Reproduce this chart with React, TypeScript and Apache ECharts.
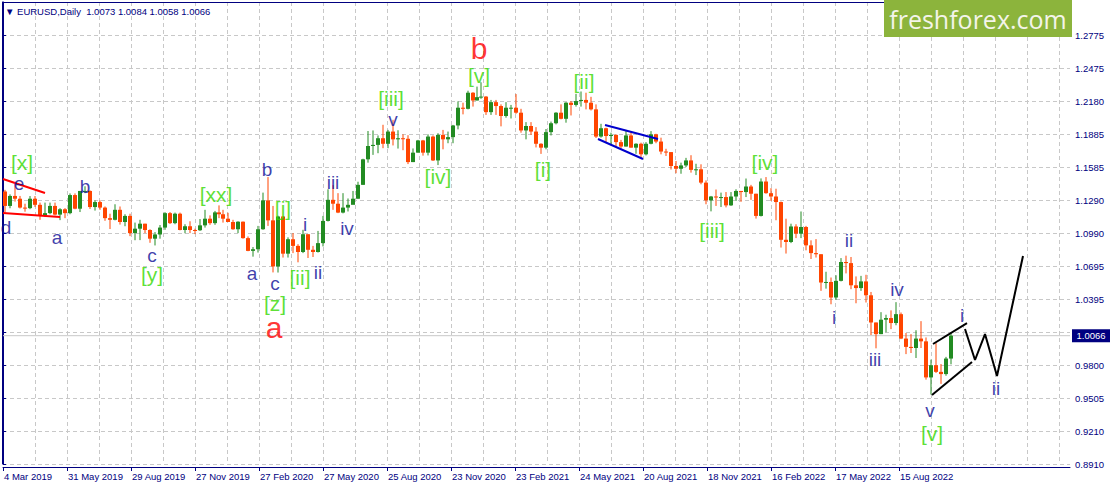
import React, { useEffect, useRef } from 'react';
import * as echarts from 'echarts';

// ---------------- data ----------------
const chartTitle = '\u25BC EURUSD,Daily  1.0073 1.0084 1.0058 1.0066';
const watermark = 'freshforex.com';
const lastPrice = 1.0066;
const lastPriceText = '1.0066';
const firstDay = '2019-03-04';
const lastBarDay = '2022-10-27';
const totalSlots = 1068; // trading-day slots shown on the x axis (incl. empty future)

const priceTicks = ['0.8910', '0.9210', '0.9505', '0.9800', '1.0100', '1.0395', '1.0695', '1.0990', '1.1290', '1.1585', '1.1885', '1.2180', '1.2475', '1.2775'];
const priceMin = 0.891;
const priceStep = 0.3865 / 13;

// weekly candles [open, high, low, close], weeks starting Mondays from 4 Mar 2019
const weeks2019 = [
  [1.1365, 1.1380, 1.1176, 1.1235], [1.1235, 1.1339, 1.1214, 1.1325], [1.1325, 1.1448, 1.1274, 1.1300], [1.1300, 1.1325, 1.1212, 1.1220],
  [1.1220, 1.1255, 1.1183, 1.1215], [1.1215, 1.1324, 1.1206, 1.1300], [1.1300, 1.1324, 1.1226, 1.1245], [1.1245, 1.1265, 1.1110, 1.1150],
  [1.1150, 1.1265, 1.1135, 1.1170], [1.1170, 1.1265, 1.1160, 1.1235], [1.1235, 1.1265, 1.1150, 1.1157], [1.1157, 1.1215, 1.1107, 1.1205],
  [1.1205, 1.1215, 1.1125, 1.1170], [1.1170, 1.1348, 1.1160, 1.1333], [1.1333, 1.1348, 1.1205, 1.1210], [1.1210, 1.1370, 1.1180, 1.1370],
  [1.1370, 1.1412, 1.1350, 1.1370], [1.1370, 1.1375, 1.1208, 1.1225], [1.1225, 1.1285, 1.1193, 1.1270], [1.1270, 1.1285, 1.1200, 1.1220],
  [1.1220, 1.1230, 1.1101, 1.1125], [1.1125, 1.1165, 1.1027, 1.1110], [1.1110, 1.1250, 1.1105, 1.1200], [1.1200, 1.1230, 1.1067, 1.1090],
  [1.1090, 1.1160, 1.1052, 1.1145], [1.1145, 1.1165, 1.0963, 1.0990], [1.0990, 1.1085, 1.0926, 1.1030], [1.1030, 1.1110, 1.0927, 1.1075],
  [1.1075, 1.1075, 1.0990, 1.1018], [1.1018, 1.1025, 1.0903, 1.0940], [1.0940, 1.0999, 1.0879, 1.0978], [1.0978, 1.1063, 1.0940, 1.1040],
  [1.1040, 1.1179, 1.1020, 1.1170], [1.1170, 1.1180, 1.1072, 1.1080], [1.1080, 1.1175, 1.1070, 1.1165], [1.1165, 1.1175, 1.1015, 1.1018],
  [1.1018, 1.1070, 1.0989, 1.1052], [1.1052, 1.1097, 1.0990, 1.1018], [1.1018, 1.1030, 1.0981, 1.1016], [1.1016, 1.1117, 1.1010, 1.1060],
  [1.1060, 1.1200, 1.1040, 1.1120], [1.1120, 1.1150, 1.1065, 1.1080], [1.1080, 1.1190, 1.1065, 1.1177], [1.1177, 1.1240, 1.1125, 1.1160],
];
const weeks2020 = [
  [1.1160, 1.1200, 1.1085, 1.1120], [1.1120, 1.1173, 1.1090, 1.1090], [1.1090, 1.1110, 1.1020, 1.1025], [1.1025, 1.1097, 1.0990, 1.1093],
  [1.1093, 1.1095, 1.0940, 1.0945], [1.0945, 1.0960, 1.0827, 1.0830], [1.0830, 1.0865, 1.0778, 1.0845], [1.0845, 1.1055, 1.0815, 1.1025],
  [1.1025, 1.1355, 1.1020, 1.1285], [1.1285, 1.1495, 1.1055, 1.1105], [1.1105, 1.1235, 1.0636, 1.0690], [1.0690, 1.1147, 1.0635, 1.1140],
  [1.1140, 1.1145, 1.0770, 1.0805], [1.0805, 1.0952, 1.0770, 1.0935], [1.0935, 1.0990, 1.0810, 1.0875], [1.0875, 1.0890, 1.0727, 1.0820],
  [1.0820, 1.1020, 1.0810, 1.0980], [1.0980, 1.0980, 1.0766, 1.0840], [1.0840, 1.0875, 1.0775, 1.0820], [1.0820, 1.1010, 1.0815, 1.0900],
  [1.0900, 1.1145, 1.0870, 1.1100], [1.1100, 1.1385, 1.1095, 1.1290], [1.1290, 1.1422, 1.1200, 1.1255], [1.1255, 1.1350, 1.1170, 1.1175],
  [1.1175, 1.1350, 1.1168, 1.1220], [1.1220, 1.1302, 1.1185, 1.1245], [1.1245, 1.1370, 1.1255, 1.1300], [1.1300, 1.1453, 1.1300, 1.1425],
  [1.1425, 1.1660, 1.1425, 1.1655], [1.1655, 1.1910, 1.1625, 1.1775], [1.1775, 1.1915, 1.1695, 1.1785], [1.1785, 1.1870, 1.1710, 1.1845],
  [1.1845, 1.1966, 1.1755, 1.1795], [1.1795, 1.1920, 1.1755, 1.1905], [1.1905, 1.2011, 1.1780, 1.1835], [1.1835, 1.1917, 1.1752, 1.1845],
  [1.1845, 1.1880, 1.1737, 1.1840], [1.1840, 1.1872, 1.1612, 1.1630], [1.1630, 1.1753, 1.1630, 1.1715], [1.1715, 1.1830, 1.1715, 1.1825],
  [1.1825, 1.1830, 1.1688, 1.1715], [1.1715, 1.1880, 1.1690, 1.1860], [1.1860, 1.1870, 1.1640, 1.1645], [1.1645, 1.1890, 1.1603, 1.1875],
  [1.1875, 1.1920, 1.1745, 1.1835], [1.1835, 1.1905, 1.1800, 1.1855], [1.1855, 1.1965, 1.1800, 1.1960], [1.1960, 1.2177, 1.1925, 1.2120],
  [1.2120, 1.2165, 1.2060, 1.2110], [1.2110, 1.2273, 1.2105, 1.2255], [1.2255, 1.2260, 1.2130, 1.2185], [1.2185, 1.2310, 1.2185, 1.2215],
];
const weeks2021 = [
  [1.2215, 1.2349, 1.2200, 1.2220], [1.2220, 1.2225, 1.2055, 1.2080], [1.2080, 1.2190, 1.2055, 1.2170], [1.2170, 1.2190, 1.2055, 1.2135],
  [1.2135, 1.2150, 1.1952, 1.2045], [1.2045, 1.2170, 1.2030, 1.2120], [1.2120, 1.2145, 1.2023, 1.2120], [1.2120, 1.2243, 1.2065, 1.2075],
  [1.2075, 1.2110, 1.1895, 1.1915], [1.1915, 1.1990, 1.1835, 1.1955], [1.1955, 1.1990, 1.1875, 1.1905], [1.1905, 1.1945, 1.1762, 1.1795],
  [1.1795, 1.1800, 1.1704, 1.1760], [1.1760, 1.1928, 1.1745, 1.1900], [1.1900, 1.1995, 1.1870, 1.1980], [1.1980, 1.2080, 1.1970, 1.2075],
  [1.2075, 1.2150, 1.2015, 1.2020], [1.2020, 1.2170, 1.1985, 1.2165], [1.2165, 1.2180, 1.2050, 1.2145], [1.2145, 1.2245, 1.2130, 1.2180],
  [1.2180, 1.2266, 1.2130, 1.2190], [1.2190, 1.2255, 1.2105, 1.2165], [1.2165, 1.2218, 1.2095, 1.2105], [1.2105, 1.2150, 1.1847, 1.1860],
  [1.1860, 1.1975, 1.1850, 1.1935], [1.1935, 1.1940, 1.1807, 1.1865], [1.1865, 1.1895, 1.1780, 1.1875], [1.1875, 1.1880, 1.1770, 1.1810],
  [1.1810, 1.1830, 1.1752, 1.1770], [1.1770, 1.1910, 1.1770, 1.1870], [1.1870, 1.1900, 1.1760, 1.1760], [1.1760, 1.1800, 1.1705, 1.1795],
  [1.1795, 1.1805, 1.1664, 1.1700], [1.1700, 1.1810, 1.1690, 1.1795], [1.1795, 1.1909, 1.1790, 1.1880], [1.1880, 1.1885, 1.1800, 1.1815],
  [1.1815, 1.1850, 1.1700, 1.1725], [1.1725, 1.1750, 1.1685, 1.1720], [1.1720, 1.1720, 1.1563, 1.1595], [1.1595, 1.1640, 1.1530, 1.1570],
  [1.1570, 1.1625, 1.1525, 1.1600], [1.1600, 1.1668, 1.1585, 1.1645], [1.1645, 1.1692, 1.1535, 1.1560], [1.1560, 1.1615, 1.1513, 1.1565],
  [1.1565, 1.1610, 1.1430, 1.1445], [1.1445, 1.1465, 1.1250, 1.1285], [1.1285, 1.1325, 1.1186, 1.1320], [1.1320, 1.1383, 1.1235, 1.1315],
  [1.1315, 1.1355, 1.1225, 1.1315], [1.1315, 1.1360, 1.1222, 1.1240], [1.1240, 1.1360, 1.1235, 1.1320], [1.1320, 1.1385, 1.1280, 1.1370],
];
const weeks2022 = [
  [1.1370, 1.1370, 1.1272, 1.1360], [1.1360, 1.1482, 1.1315, 1.1410], [1.1410, 1.1425, 1.1290, 1.1345], [1.1345, 1.1345, 1.1121, 1.1145],
  [1.1145, 1.1483, 1.1140, 1.1455], [1.1455, 1.1495, 1.1345, 1.1350], [1.1350, 1.1395, 1.1280, 1.1320], [1.1320, 1.1390, 1.1106, 1.1270],
  [1.1270, 1.1275, 1.0860, 1.0930], [1.0930, 1.1120, 1.0806, 1.0910], [1.0910, 1.1075, 1.0900, 1.1050], [1.1050, 1.1070, 1.0945, 1.0985],
  [1.0985, 1.1185, 1.0945, 1.1045], [1.1045, 1.1055, 1.0835, 1.0880], [1.0880, 1.0925, 1.0757, 1.0810], [1.0810, 1.0936, 1.0770, 1.0800],
  [1.0800, 1.0800, 1.0470, 1.0545], [1.0545, 1.0642, 1.0490, 1.0550], [1.0550, 1.0590, 1.0349, 1.0410], [1.0410, 1.0610, 1.0390, 1.0560],
  [1.0560, 1.0765, 1.0555, 1.0730], [1.0730, 1.0787, 1.0627, 1.0720], [1.0720, 1.0775, 1.0485, 1.0520], [1.0520, 1.0600, 1.0358, 1.0495],
  [1.0495, 1.0605, 1.0470, 1.0555], [1.0555, 1.0615, 1.0365, 1.0430], [1.0430, 1.0460, 1.0072, 1.0185], [1.0185, 1.0185, 0.9952, 1.0080],
  [1.0080, 1.0278, 1.0080, 1.0210], [1.0210, 1.0255, 1.0097, 1.0225], [1.0225, 1.0294, 1.0125, 1.0180], [1.0180, 1.0368, 1.0160, 1.0260],
  [1.0260, 1.0275, 1.0035, 1.0040], [1.0040, 1.0090, 0.9900, 0.9965], [0.9965, 1.0080, 0.9910, 0.9955], [0.9955, 1.0115, 0.9865, 1.0040],
  [1.0040, 1.0197, 0.9955, 1.0015], [1.0015, 1.0050, 0.9670, 0.9690], [0.9690, 0.9850, 0.9536, 0.9800], [0.9800, 0.9999, 0.9730, 0.9740],
  [0.9740, 0.9810, 0.9632, 0.9720], [0.9720, 0.9875, 0.9705, 0.9860], [0.9860, 1.0094, 0.9808, 1.0066],
];

// wave labels: [trading-day slot, price, text]
const navyLabels = [
  [16, 1.1435, 'e'], [3, 1.1045, 'd'], [54, 1.0955, 'a'], [82, 1.1406, 'b'], [149, 1.0785, 'c'],
  [264, 1.1559, 'b'], [249, 1.0622, 'a'], [272, 1.0533, 'c'], [302, 1.1072, 'i'], [315, 1.0631, 'ii'],
  [330, 1.1442, 'iii'], [344, 1.1036, 'iv'], [390, 1.2016, 'v'],
  [846, 1.0928, 'ii'], [831, 1.0234, 'i'], [894, 1.0478, 'iv'], [872, 0.9847, 'iii'], [927, 0.9388, 'v'],
  [959, 1.0252, 'i'], [993, 0.9586, 'ii'],
];
const greenLabels = [
  [19, 1.1622, '[x]'], [149, 1.0615, '[y]'], [213, 1.1334, '[xx]'], [280, 1.1208, '[j]'], [272, 1.0360, '[z]'],
  [297, 1.0586, '[ii]'], [388, 1.2205, '[iii]'], [435, 1.1496, '[iv]'], [476, 1.2406, '[v]'], [540, 1.1559, '[i]'],
  [581, 1.2352, '[ii]'], [709, 1.1018, '[iii]'], [762, 1.1622, '[iv]'], [929, 0.9189, '[v]'],
];
const redLabels = [
  [271, 1.0144, 'a'], [476, 1.2649, 'b'],
];

// trend lines: list of [slot, price]
const redUpper = [[0, 1.1478], [42, 1.1352]];
const redLower = [[0, 1.1172], [57, 1.1136]];
const blueUpper = [[602, 1.1964], [655, 1.1838]];
const blueLower = [[595, 1.1838], [640, 1.1658]];
const blackUpper = [[930, 0.9991], [964, 1.0180]];
const blackLower = [[929, 0.9532], [969, 0.9829]];
const forecastPath = [[962, 1.0126], [972, 0.9847], [982, 1.0081], [994, 0.9703], [1020, 1.0784]];

// ---------------- helpers ----------------
const MONTHS = ['Jan', 'Feb', 'Mar', 'Apr', 'May', 'Jun', 'Jul', 'Aug', 'Sep', 'Oct', 'Nov', 'Dec'];
const DAY = 86400000;

function buildTradingDays(start: string, count: number): number[] {
  const out: number[] = [];
  let t = Date.parse(start + 'T00:00:00Z');
  while (out.length < count) {
    const d = new Date(t);
    const wd = d.getUTCDay();
    const m = d.getUTCMonth();
    const day = d.getUTCDate();
    const holiday = (m === 11 && day === 25) || (m === 0 && day === 1);
    if (wd !== 0 && wd !== 6 && !holiday) out.push(t);
    t += DAY;
  }
  return out;
}

function fmtDate(t: number): string {
  const d = new Date(t);
  return d.getUTCDate() + ' ' + MONTHS[d.getUTCMonth()] + ' ' + d.getUTCFullYear();
}

const GREEN = '#228b22';
const ORANGE = '#ff4500';
const NAVY = '#000080';
const LABEL_NAVY = '#0c0c96';
const LABEL_GREEN = '#33d800';
const GRIDC = '#c8c8c8';
const FONT = '"Liberation Sans", Arial, sans-serif';

export default function App() {
  const ref = useRef<HTMLDivElement>(null);

  useEffect(() => {
    if (!ref.current) return;
    const chart = echarts.init(ref.current, undefined, { renderer: 'svg' });

    const days = buildTradingDays(firstDay, totalSlots);
    const dayLabels = days.map(fmtDate);
    const lastBar = days.indexOf(Date.parse(lastBarDay + 'T00:00:00Z'));

    const weekly = [...weeks2019, ...weeks2020, ...weeks2021, ...weeks2022];
    const start = Date.parse(firstDay + 'T00:00:00Z');
    const candles = weekly.map((w, k) => {
      const ws = start + k * 7 * DAY;
      const we = ws + 7 * DAY;
      let first = -1;
      let last = -1;
      for (let i = 0; i < days.length; i++) {
        if (days[i] >= ws && days[i] < we) {
          if (first < 0) first = i;
          last = i;
        }
      }
      if (k === weekly.length - 1) last = lastBar;
      const center = (first + last) / 2;
      return [center, w[0], w[3], w[2], w[1]];
    });

    const priceMax = priceMin + 14 * priceStep;
    const tickFormatter = (v: number) => {
      const i = Math.round((v - priceMin) / priceStep);
      if (Math.abs(v - (priceMin + i * priceStep)) > priceStep * 0.1) return '';
      return i >= 0 && i < priceTicks.length ? priceTicks[i] : '';
    };

    const lineSeries = (data: number[][], color: string, width: number) => ({
      type: 'line',
      data,
      showSymbol: false,
      symbol: 'none',
      lineStyle: { color, width },
      silent: true,
      z: 5,
    });

    const labelSeries = (data: any[], color: string, size: number) => ({
      type: 'scatter',
      data,
      symbolSize: 1,
      itemStyle: { color: 'rgba(0,0,0,0)' },
      silent: true,
      z: 6,
      label: {
        show: true,
        position: 'inside',
        formatter: (p: any) => p.value[2],
        color,
        fontSize: size,
        fontFamily: FONT,
      },
    });

    chart.setOption({
      animation: false,
      backgroundColor: '#ffffff',
      grid: { left: 3, right: 41, top: 2, bottom: 24, containLabel: false },
      xAxis: [
        {
          type: 'category',
          data: dayLabels,
          boundaryGap: false,
          offset: 3,
          axisLine: { show: true, lineStyle: { color: NAVY, width: 1 } },
          axisTick: {
            show: true,
            length: 4,
            interval: (i: number) => i % 64 === 0 && i <= lastBar,
            lineStyle: { color: NAVY },
          },
          axisLabel: {
            interval: (i: number) => i % 64 === 0 && i <= lastBar,
            align: 'left',
            color: NAVY,
            fontSize: 9.5,
            fontFamily: FONT,
            margin: 4,
            padding: [0, 0, 0, 1],
          },
          splitLine: {
            show: true,
            interval: (i: number) => i % 32 === 0,
            lineStyle: { color: GRIDC, type: [4, 3], width: 1 },
          },
        },
        {
          type: 'value',
          position: 'top',
          min: 0,
          max: 1,
          axisLine: { show: true, lineStyle: { color: NAVY } },
          axisTick: { show: false },
          axisLabel: { show: false },
          splitLine: { show: false },
        },
      ],
      yAxis: [
        {
          type: 'value',
          position: 'right',
          min: priceMin,
          max: priceMax,
          interval: priceStep,
          axisLine: { show: true, lineStyle: { color: NAVY } },
          axisTick: { show: true, length: 3, lineStyle: { color: NAVY } },
          axisLabel: {
            formatter: tickFormatter,
            color: NAVY,
            fontSize: 9.5,
            fontFamily: FONT,
            margin: 5,
          },
          splitLine: { show: true, lineStyle: { color: GRIDC, type: [4, 3], width: 1 } },
        },
        {
          type: 'value',
          position: 'left',
          offset: 1,
          min: priceMin,
          max: priceMax,
          axisLine: { show: true, lineStyle: { color: NAVY } },
          axisTick: { show: false },
          axisLabel: { show: false },
          splitLine: { show: false },
        },
      ],
      series: [
        {
          type: 'line',
          data: [[0, lastPrice], [totalSlots - 1, lastPrice]],
          symbol: 'none',
          showSymbol: false,
          silent: true,
          lineStyle: { color: '#c8c8c8', width: 1 },
          z: 1,
          markPoint: {
            silent: true,
            symbol: 'rect',
            symbolSize: [38, 13],
            symbolOffset: [21, 0],
            itemStyle: { color: NAVY },
            label: {
              show: true,
              formatter: lastPriceText,
              color: '#ffffff',
              fontSize: 9.5,
              fontFamily: FONT,
              position: 'inside',
            },
            data: [{ coord: [totalSlots - 1, lastPrice] }],
          },
        },
        {
          type: 'custom',
          data: candles,
          encode: { x: 0, y: [1, 2, 3, 4] },
          clip: true,
          z: 3,
          renderItem: (params: any, api: any) => {
            const x = api.value(0);
            const o = api.value(1);
            const c = api.value(2);
            const l = api.value(3);
            const h = api.value(4);
            const pO = api.coord([x, o]);
            const pC = api.coord([x, c]);
            const pL = api.coord([x, l]);
            const pH = api.coord([x, h]);
            const color = c >= o ? GREEN : ORANGE;
            const w = 4;
            const top = Math.min(pO[1], pC[1]);
            const bh = Math.max(1, Math.abs(pO[1] - pC[1]));
            return {
              type: 'group',
              children: [
                { type: 'line', shape: { x1: pH[0], y1: pH[1], x2: pL[0], y2: pL[1] }, style: { stroke: color, lineWidth: 1 } },
                { type: 'rect', shape: { x: pO[0] - w / 2, y: top, width: w, height: bh }, style: { fill: color } },
              ],
            };
          },
        },
        lineSeries(redUpper, '#ff0000', 2),
        lineSeries(redLower, '#ff0000', 2),
        lineSeries(blueUpper, '#0000cc', 2),
        lineSeries(blueLower, '#0000cc', 2),
        lineSeries(blackUpper, '#000000', 2),
        lineSeries(blackLower, '#000000', 2),
        lineSeries(forecastPath, '#000000', 2),
        labelSeries(navyLabels, LABEL_NAVY, 19),
        labelSeries(greenLabels, LABEL_GREEN, 21),
        labelSeries(redLabels, '#ff0000', 30),
      ],
      graphic: [
        {
          type: 'rect',
          x: 884,
          y: 0,
          z: 20,
          shape: { width: 188, height: 37 },
          style: { fill: '#8cb43c' },
        },
        {
          type: 'text',
          x: 978,
          y: 19,
          z: 21,
          style: {
            text: watermark,
            fill: '#f4f4ea',
            fontSize: 25,
            fontFamily: '"Open Sans", sans-serif',
            textAlign: 'center',
            textVerticalAlign: 'middle',
          },
        },
        {
          type: 'text',
          x: 5,
          y: 6,
          z: 21,
          style: {
            text: chartTitle,
            fill: NAVY,
            fontSize: 9.5,
            fontFamily: FONT,
          },
        },
      ],
    });

    return () => chart.dispose();
  }, []);

  return <div ref={ref} style={{ position: 'fixed', left: 0, top: 0, width: 1111, height: 488 }} />;
}
